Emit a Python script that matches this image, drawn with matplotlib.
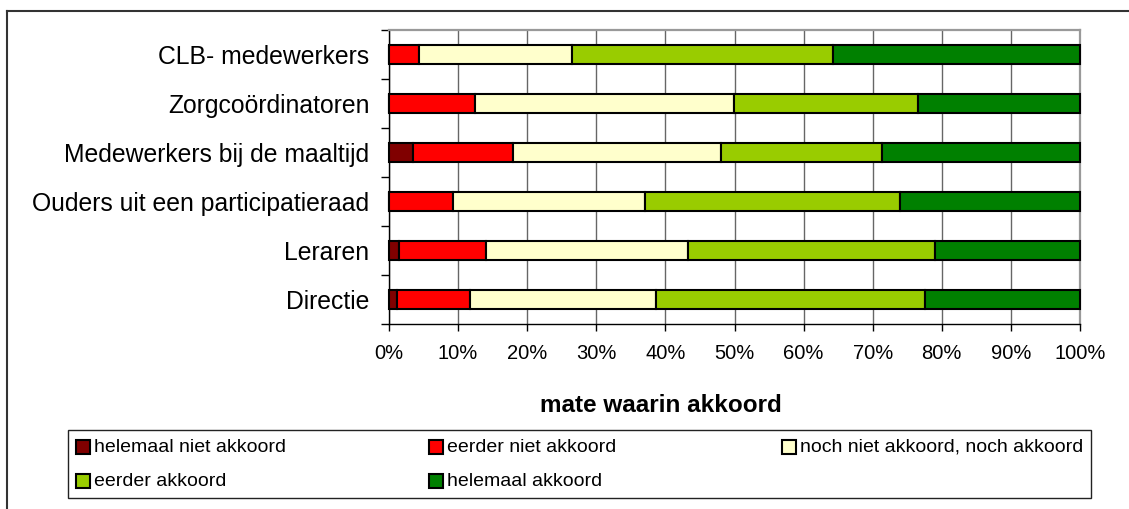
import matplotlib
matplotlib.use("Agg")
import matplotlib.pyplot as plt
from matplotlib.patches import Rectangle
from matplotlib.lines import Line2D
import numpy as np

plt.rcParams['font.family'] = ['Liberation Sans', 'DejaVu Sans']

# categories from bottom to top
categories = ["Directie", "Leraren", "Ouders uit een participatieraad",
              "Medewerkers bij de maaltijd", "Zorgcoördinatoren", "CLB- medewerkers"]
series_names = ["helemaal niet akkoord", "eerder niet akkoord",
                "noch niet akkoord, noch akkoord", "eerder akkoord", "helemaal akkoord"]
helemaal_niet = [1.1, 1.4, 0.0, 3.5, 0.0, 0.0]
eerder_niet = [10.6, 12.7, 9.2, 14.4, 12.5, 4.3]
noch = [27.0, 29.1, 27.8, 30.2, 37.4, 22.2]
eerder = [38.8, 35.8, 37.0, 23.2, 26.6, 37.8]
helemaal = [22.5, 21.0, 26.0, 28.7, 23.5, 35.7]
colors = ["#800000", "#FF0000", "#FFFFCC", "#99CC00", "#008000"]
xticks = list(range(0, 101, 10))

W, H = 1129, 509


def fx(px):
    return px / W


def fy(py):
    return 1 - py / H


fig = plt.figure(figsize=(W / 100, H / 100), dpi=100)
ax = fig.add_axes([fx(389), fy(324), fx(1080) - fx(389), fy(30) - fy(324)])

y = np.arange(len(categories))
left = np.zeros(len(categories))
for vals, c in zip([helemaal_niet, eerder_niet, noch, eerder, helemaal], colors):
    vals = np.array(vals)
    ax.barh(y, vals, left=left, height=0.4, color=c, edgecolor='black',
            linewidth=1.5, zorder=3, clip_on=False)
    left += vals

ax.set_xlim(0, 100)
ax.set_ylim(-0.5, len(categories) - 0.5)
ax.set_xticks(xticks)
ax.set_xticklabels([f"{v}%" for v in xticks], fontsize=14.5)
ax.tick_params(axis='x', length=5, width=1, pad=9.5, color='black')
ax.xaxis.grid(True, color='#666666', linewidth=1)
ax.set_axisbelow(True)

ax.set_yticks(np.arange(-0.5, len(categories), 1))
ax.set_yticklabels([])
ax.set_yticks(y, minor=True)
ax.set_yticklabels(categories, minor=True, fontsize=17.8)
ax.tick_params(axis='y', which='major', length=5.5, width=1, color='black')
ax.tick_params(axis='y', which='minor', length=0, pad=14)

ax.spines['left'].set_color('black')
ax.spines['bottom'].set_color('black')
ax.spines['left'].set_linewidth(1)
ax.spines['bottom'].set_linewidth(1)
for s in ['top', 'right']:
    ax.spines[s].set_color('#999999')
    ax.spines[s].set_linewidth(1.6)

fig.text(fx(661), fy(412), "mate waarin akkoord", fontsize=17.5,
         fontweight='bold', ha='center', va='baseline')

# outer chart frame
fig.add_artist(Line2D([fx(7), 1.0], [fy(11), fy(11)], color='#333333', lw=1.5))
fig.add_artist(Line2D([fx(7), fx(7)], [fy(11), 0.0], color='#333333', lw=1.5))

# legend
fig.add_artist(Rectangle((fx(68), fy(498)), fx(1091) - fx(68), fy(430) - fy(498),
                         fill=False, edgecolor='#222222', lw=1, transform=fig.transFigure))
col_x = [76, 429, 782]
row_y = [447, 481]
slots = [(0, 0), (1, 0), (2, 0), (0, 1), (1, 1)]
for name, c, (ci, ri) in zip(series_names, colors, slots):
    mx, my = col_x[ci], row_y[ri]
    fig.add_artist(Rectangle((fx(mx), fy(my + 7)), fx(14), 14 / H,
                             facecolor=c, edgecolor='black', lw=1.5,
                             transform=fig.transFigure))
    fig.text(fx(mx + 18), fy(my), name, fontsize=14, ha='left', va='center')

fig.savefig("out.png", dpi=100)
